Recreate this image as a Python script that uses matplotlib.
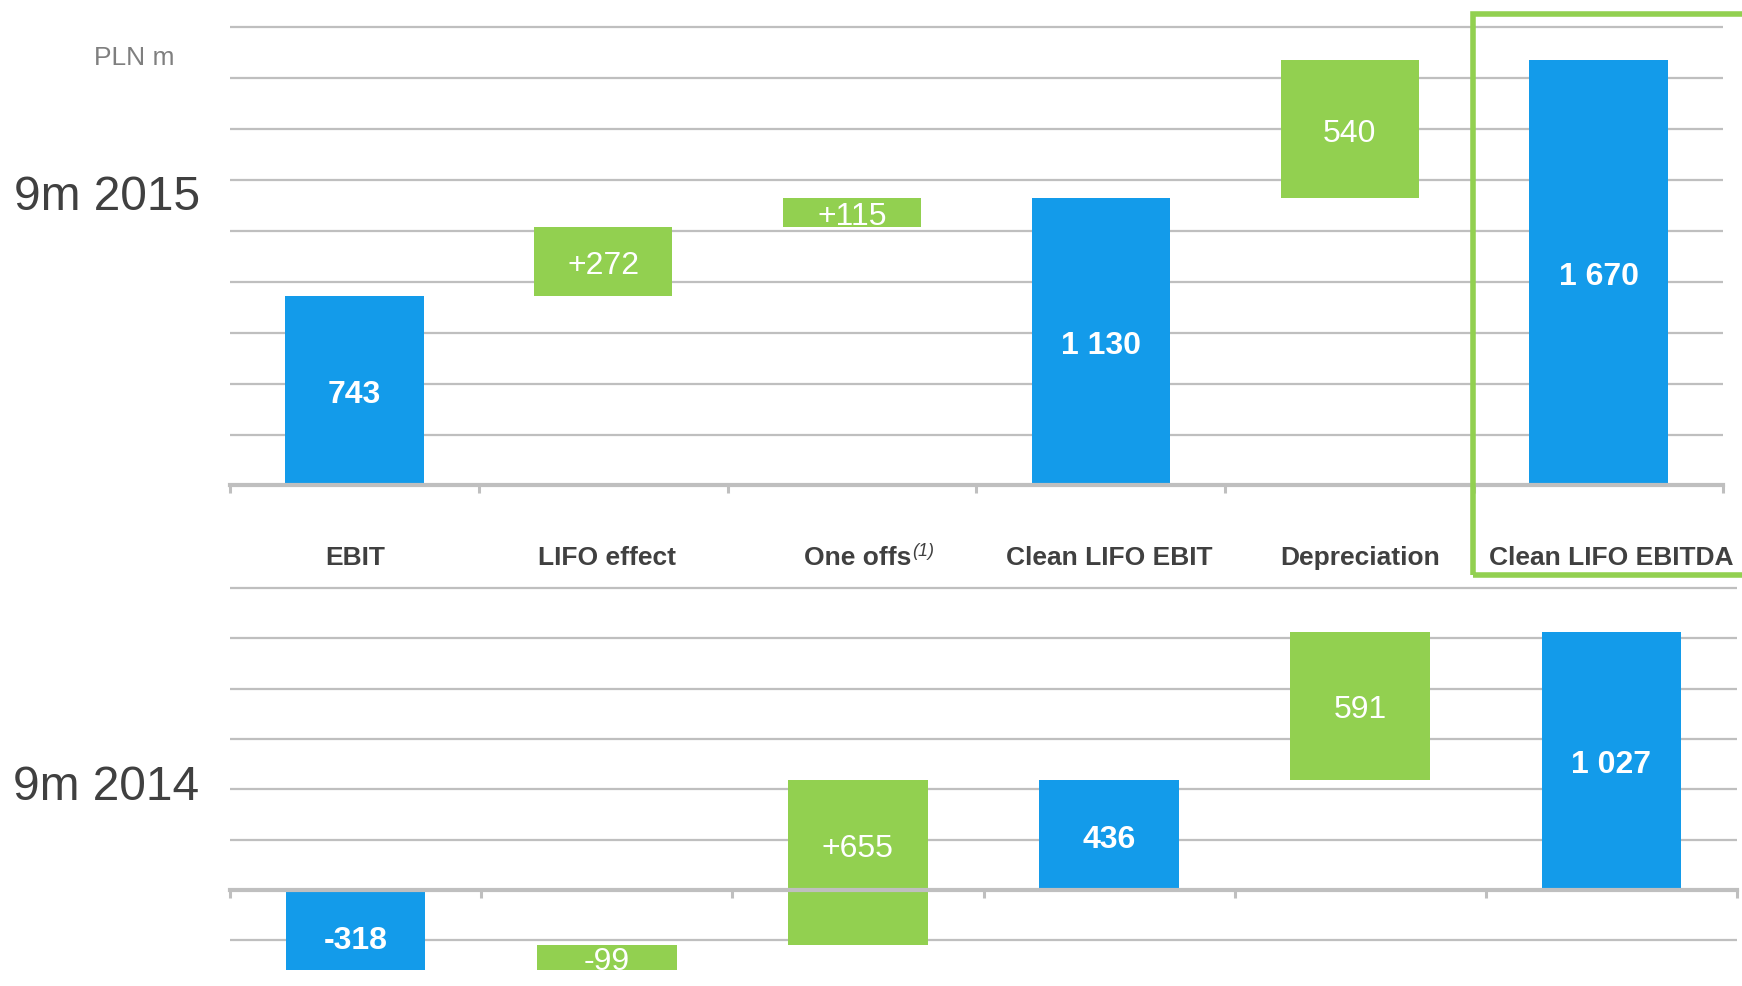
import matplotlib
matplotlib.use("Agg")
import matplotlib.pyplot as plt
from matplotlib.patches import Rectangle
from matplotlib.transforms import blended_transform_factory, offset_copy

plt.rcParams['font.family'] = ['Liberation Sans', 'DejaVu Sans']

# ---------------- data ----------------
categories = ["EBIT", "LIFO effect", "One offs", "Clean LIFO EBIT", "Depreciation", "Clean LIFO EBITDA"]
kinds = ["total", "delta", "delta", "total", "delta", "total"]

values_2015 = [743, 272, 115, 1130, 540, 1670]
labels_2015 = ["743", "+272", "+115", "1 130", "540", "1 670"]

values_2014 = [-318, 99, 655, 436, 591, 1027]
labels_2014 = ["-318", "-99", "+655", "436", "591", "1 027"]

period_labels = ["9m 2015", "9m 2014"]
unit_label = "PLN m"
footnote_mark = "(1)"

# ---------------- style ----------------
BLUE = "#139BEA"
GREEN = "#92D050"
GRID = "#BFBFBF"
TEXT = "#404040"
# per-label vertical nudges (pixels), bottom chart only
nudge_2014 = [-7, 0, 18, 0, 0, 0]
nudge_2015 = [0, 0, 0, 0, 0, 0]

W, H = 1742, 986
fig = plt.figure(figsize=(W / 100, H / 100), dpi=100)


def waterfall(values, kinds):
    bottoms, heights, colors = [], [], []
    running = 0
    for v, k in zip(values, kinds):
        if k == "total":
            bottoms.append(0)
            heights.append(v)
            running = v
            colors.append(BLUE)
        else:
            bottoms.append(running)
            heights.append(v)
            running += v
            colors.append(GREEN)
    return bottoms, heights, colors


def setup_axes(ax, ylim, grid_ticks):
    ax.set_xlim(-0.5, len(categories) - 0.5)
    ax.set_ylim(*ylim)
    for s in ["top", "left", "right"]:
        ax.spines[s].set_visible(False)
    ax.spines["bottom"].set_position(("data", 0))
    ax.spines["bottom"].set_color(GRID)
    ax.spines["bottom"].set_linewidth(3.0)
    ax.spines["bottom"].set_zorder(3)
    ax.set_xticks([i - 0.5 for i in range(len(categories) + 1)])
    ax.set_xticklabels([])
    ax.tick_params(axis="x", direction="out", length=6, width=2.2, color=GRID)
    ax.set_yticks(grid_ticks)
    ax.set_yticklabels([])
    ax.tick_params(axis="y", length=0)
    ax.yaxis.grid(True, color=GRID, linewidth=1.6)
    ax.set_axisbelow(True)
    ax.patch.set_alpha(0)


def draw_bars(ax, values, labels, nudges):
    bottoms, heights, colors = waterfall(values, kinds)
    x = list(range(len(values)))
    ax.bar(x, heights, bottom=bottoms, width=0.556, color=colors, zorder=2)
    for i, (b, h, c, lab, n) in enumerate(zip(bottoms, heights, colors, labels, nudges)):
        tr = offset_copy(ax.transData, fig=fig, x=0, y=-4.5 + n, units="dots")
        ax.text(i, b + h / 2, lab, ha="center", va="center", color="white",
                fontsize=23, fontweight="bold" if c == BLUE else "normal",
                zorder=4, clip_on=True, transform=tr)


# top chart (9m 2015)
ax_t = fig.add_axes([230 / W, (H - 485.5) / H, (1723 - 230) / W, (485.5 - 17.2) / H])
setup_axes(ax_t, (0, 1840), list(range(200, 1801, 200)))
draw_bars(ax_t, values_2015, labels_2015, nudge_2015)

# bottom chart (9m 2014)
ax_b = fig.add_axes([230 / W, (H - 970) / H, (1737 - 230) / W, (970 - 580.5) / H])
setup_axes(ax_b, (-318, 1230), [-200, 200, 400, 600, 800, 1000, 1200])
draw_bars(ax_b, values_2014, labels_2014, nudge_2014)

# category labels
trans = blended_transform_factory(ax_b.transData, fig.transFigure)
label_y = (H - 565) / H
for i, cat in enumerate(categories):
    t = fig.text(i, label_y, cat, transform=trans, ha="center", va="baseline",
                 fontsize=19, fontweight="bold", color=TEXT)
    if cat == "One offs":
        ax_b.annotate(footnote_mark, xy=(1, 1), xycoords=t, xytext=(1, 3),
                      textcoords="offset pixels", ha="left", va="top",
                      fontsize=13, fontstyle="italic", color=TEXT,
                      annotation_clip=False)

# period labels and unit
fig.text(14 / W, (H - 197) / H, period_labels[0], ha="left", va="center",
         fontsize=34.5, color=TEXT)
fig.text(13 / W, (H - 787) / H, period_labels[1], ha="left", va="center",
         fontsize=34.5, color=TEXT)
fig.text(94 / W, (H - 65) / H, unit_label, ha="left", va="baseline",
         fontsize=19, color="#7F7F7F")

# green highlight frame
frame = Rectangle((1473 / W, (H - 574.5) / H), (1780 - 1473) / W, (574.5 - 14) / H,
                  transform=fig.transFigure, fill=False, edgecolor=GREEN,
                  linewidth=4.0, zorder=10)
fig.add_artist(frame)

fig.savefig("out.png", dpi=100, facecolor="white")
